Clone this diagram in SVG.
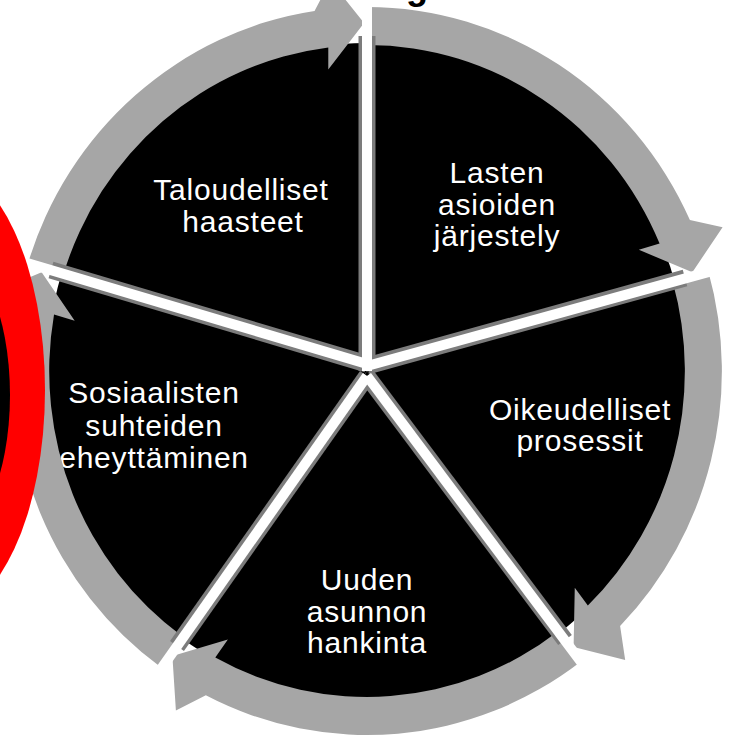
<svg xmlns="http://www.w3.org/2000/svg" width="733" height="741" viewBox="0 0 733 741">
<style>
.sector{fill:#000}
.arrow{fill:#a6a6a6}
.lbl{fill:#fff;font-family:"Liberation Sans",Arial,sans-serif;font-size:30px;letter-spacing:0.8px;text-anchor:middle}
.gapEdge{stroke:#7c7c7c;stroke-width:17;fill:none;stroke-linecap:butt}
.gapWhite{stroke:#fff;stroke-width:10;fill:none;stroke-linecap:butt}
</style>
<rect width="733" height="741" fill="#fff"/>
<text x="417" y="-1" font-family="Liberation Sans,Arial,sans-serif" font-size="36" font-weight="bold" text-anchor="middle" fill="#000">g</text>

<g id="node-taloudelliset">
<path class="sector" transform="translate(367 371) scale(0.975 1)" d="M0 0 L-313.7 -95.9 A328 328 0 0 1 0 -328 Z"/>
<text class="lbl" x="241" y="200">Taloudelliset</text>
<text class="lbl" x="243" y="232">haasteet</text>
</g>
<g id="node-lasten">
<path class="sector" transform="translate(367 371) scale(0.975 1)" d="M0 0 L0 -328 A328 328 0 0 1 315.3 -90.4 Z"/>
<text class="lbl" x="497" y="183">Lasten</text>
<text class="lbl" x="497" y="215">asioiden</text>
<text class="lbl" x="497" y="246">järjestely</text>
</g>
<g id="node-oikeudelliset">
<path class="sector" transform="translate(367 371) scale(0.975 1)" d="M0 0 L315.3 -90.4 A328 328 0 0 1 197.4 261.9 Z"/>
<text class="lbl" x="580" y="420">Oikeudelliset</text>
<text class="lbl" x="580" y="451">prosessit</text>
</g>
<g id="node-uuden">
<path class="sector" transform="translate(367 371) scale(0.975 1)" d="M0 0 L197.4 261.9 A328 328 0 0 1 -190.5 267 Z"/>
<text class="lbl" x="367" y="590">Uuden</text>
<text class="lbl" x="367" y="622">asunnon</text>
<text class="lbl" x="367" y="653">hankinta</text>
</g>
<g id="node-sosiaalisten">
<path class="sector" transform="translate(367 371) scale(0.975 1)" d="M0 0 L-190.5 267 A328 328 0 0 1 -313.7 -95.9 Z"/>
<text class="lbl" x="154" y="403">Sosiaalisten</text>
<text class="lbl" x="154" y="436">suhteiden</text>
<text class="lbl" x="154" y="468">eheyttäminen</text>
</g>

<g id="connectors" transform="translate(367 371) scale(0.975 1)">
<path class="arrow" d="M-348.1 -106.4 A364 364 0 0 1 -53.8 -360 L-37.6 -390.2 L-3 -348 L-39.7 -301.4 L-39.7 -323.6 A326 326 0 0 0 -311.8 -95.3 Z"/>
<path class="arrow" d="M0 -364 A364 364 0 0 1 331.2 -151 L364.7 -143.7 L333.7 -98.8 L278.8 -121.2 L300.1 -127.4 A326 326 0 0 0 0 -326 Z"/>
<path class="arrow" d="M349.9 -100.3 A364 364 0 0 1 259.6 255.1 L264.8 289 L211.9 276.1 L213.1 216.8 L226.5 234.5 A326 326 0 0 0 313.4 -89.8 Z"/>
<path class="arrow" d="M219.1 290.7 A364 364 0 0 1 -165.3 324.3 L-196 339.5 L-199.6 285.1 L-142.7 268.4 L-155.6 286.5 A326 326 0 0 0 196.2 260.3 Z"/>
<path class="arrow" d="M-211.4 296.3 A364 364 0 0 1 -360 -53.8 L-384.1 -78.2 L-333.7 -98.8 L-299.8 -50.2 L-321 -56.6 A326 326 0 0 0 -189.3 265.4 Z"/>
</g>

<g id="separators">
<line class="gapEdge" x1="367" y1="371" x2="367" y2="36"/>
<line class="gapEdge" x1="367" y1="366" x2="685" y2="278"/>
<line class="gapEdge" x1="367" y1="364" x2="51" y2="270"/>
<line class="gapEdge" x1="367" y1="376" x2="565" y2="640"/>
<line class="gapEdge" x1="367" y1="376" x2="177" y2="646"/>
<line class="gapWhite" x1="367" y1="371" x2="367" y2="-5"/>
<line class="gapWhite" x1="367" y1="366" x2="745" y2="262"/>
<line class="gapWhite" x1="367" y1="364" x2="-10" y2="252"/>
<line class="gapWhite" x1="367" y1="376" x2="614" y2="706"/>
<line class="gapWhite" x1="367" y1="376" x2="135" y2="706"/>
</g>

<g id="red-mark">
<ellipse cx="-60" cy="390" rx="105" ry="225" fill="#ff0000"/>
<ellipse cx="-58" cy="395" rx="68" ry="150" fill="#000"/>
</g>
</svg>
